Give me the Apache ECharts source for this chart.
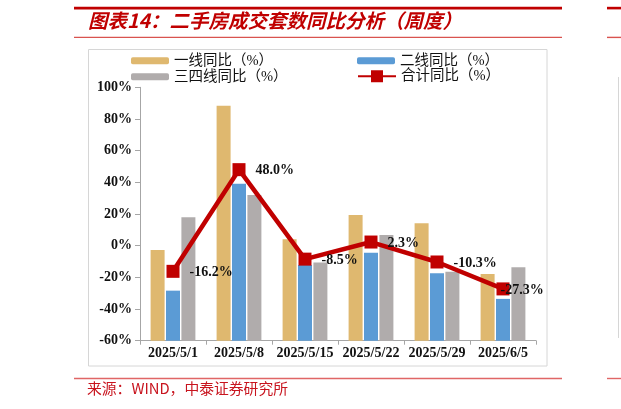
<!DOCTYPE html>
<html><head><meta charset="utf-8">
<script src="https://cdn.jsdelivr.net/npm/echarts@6/dist/echarts.min.js"></script>
<style>html,body{margin:0;padding:0;background:#fff;}#c{width:621px;height:409px;}</style>
</head><body><div id="c"></div>
<script>
const categories = ['2025/5/1','2025/5/8','2025/5/15','2025/5/22','2025/5/29','2025/6/5'];
const tier1 = [-2.7, 88.3, 4.0, 19.4, 14.1, -17.9];
const tier2 = [-28.4, 39.1, -12.2, -4.4, -17.4, -33.6];
const tier34 = [17.9, 32.0, -10.7, 6.7, -16.4, -13.6];
const total = [-16.2, 48.0, -8.5, 2.3, -10.3, -27.3];
const seriesNames = ['一线同比（%）','二线同比（%）','三四线同比（%）','合计同比（%）'];
const yTicks = {min: -60, max: 100, interval: 20};
const titleText = '图表14：二手房成交套数同比分析（周度）';
const sourceText = '来源：WIND，中泰证券研究所';

const serif = "'Liberation Serif','Times New Roman',serif";
const legFont = "'Liberation Serif','Noto Sans CJK SC',serif";
const chart = echarts.init(document.getElementById('c'), null, {renderer:'canvas'});
function leg(name, left, top, h){
  return {data:[name], left:left, top:top, itemWidth:38, itemHeight:h, itemGap:5,
    textStyle:{fontFamily:legFont, fontSize:14.5, color:'#111'}, selectedMode:false};
}
chart.setOption({
  animation:false,
  backgroundColor:'#fff',
  graphic:[
    {type:'rect', shape:{x:74,y:6.8,width:488,height:2.6}, style:{fill:'#c00000'}, silent:true},
    {type:'rect', shape:{x:607,y:6.8,width:14,height:2.6}, style:{fill:'#c00000'}, silent:true},
    {type:'rect', shape:{x:74,y:36.7,width:488,height:1.4}, style:{fill:'#d9534f'}, silent:true},
    {type:'rect', shape:{x:607,y:36.7,width:14,height:1.4}, style:{fill:'#d9534f'}, silent:true},
    {type:'rect', shape:{x:74,y:377.8,width:488,height:1.4}, style:{fill:'#e06666'}, silent:true},
    {type:'rect', shape:{x:607,y:377.8,width:14,height:1.4}, style:{fill:'#e06666'}, silent:true},
    {type:'rect', shape:{x:88.5,y:49.5,width:458.5,height:316.5}, style:{fill:'none', stroke:'#d6d6d6', lineWidth:1}, silent:true},
    {type:'line', shape:{x1:618.5,y1:77,x2:618.5,y2:338}, style:{stroke:'#d6d6d6', lineWidth:1}, silent:true},
    {type:'text', left:88, top:10.5, style:{text:titleText, fill:'#c00000', font:"italic bold 19.5px 'Noto Sans CJK SC', sans-serif"}, silent:true},
    {type:'text', left:87, top:380.5, style:{text:sourceText, fill:'#c8141e', font:"14.8px 'Noto Sans CJK SC', sans-serif"}, silent:true}
  ],
  legend:[
    leg(seriesNames[0], 126, 48.5, 7),
    leg(seriesNames[1], 352, 48.5, 7),
    leg(seriesNames[2], 126, 64.5, 7),
    leg(seriesNames[3], 352, 64, 15)
  ],
  grid:{left:140, right:85, top:87.3, bottom:68.3, containLabel:false},
  xAxis:{type:'category', data:categories,
    axisLine:{onZero:false, lineStyle:{color:'#a6a6a6', width:1}},
    axisTick:{show:true, alignWithLabel:false, length:4, lineStyle:{color:'#a6a6a6'}},
    axisLabel:{interval:0, fontFamily:serif, fontWeight:'bold', fontSize:14, color:'#111', margin:6}
  },
  yAxis:{type:'value', min:yTicks.min, max:yTicks.max, interval:yTicks.interval, startValue:yTicks.min,
    axisLine:{show:true, lineStyle:{color:'#a6a6a6', width:1}},
    axisTick:{show:true, length:5, lineStyle:{color:'#a6a6a6'}},
    splitLine:{show:false},
    axisLabel:{formatter:'{value}%', fontFamily:serif, fontWeight:'bold', fontSize:14, color:'#111', margin:8}
  },
  series:[
    {name:seriesNames[0], type:'bar', data:tier1, barWidth:14, barGap:'10%', itemStyle:{color:'#dfb86f'}},
    {name:seriesNames[1], type:'bar', data:tier2, barWidth:14, barGap:'10%', itemStyle:{color:'#5b9bd5'}},
    {name:seriesNames[2], type:'bar', data:tier34, barWidth:14, barGap:'10%', itemStyle:{color:'#b0acac'}},
    {name:seriesNames[3], type:'line', z:5,
      data: total.map((v,i)=> i===total.length-1 ? {value:v, label:{offset:[-19,1]}} : v),
      symbol:'rect', symbolSize:13, lineStyle:{color:'#c00000', width:4.5}, itemStyle:{color:'#c00000'},
      label:{show:true, position:'right', distance:10, formatter:(p)=>p.value.toFixed(1)+'%',
        fontFamily:serif, fontWeight:'bold', fontSize:14, color:'#111', offset:[0,1]}
    }
  ]
});
</script></body></html>
